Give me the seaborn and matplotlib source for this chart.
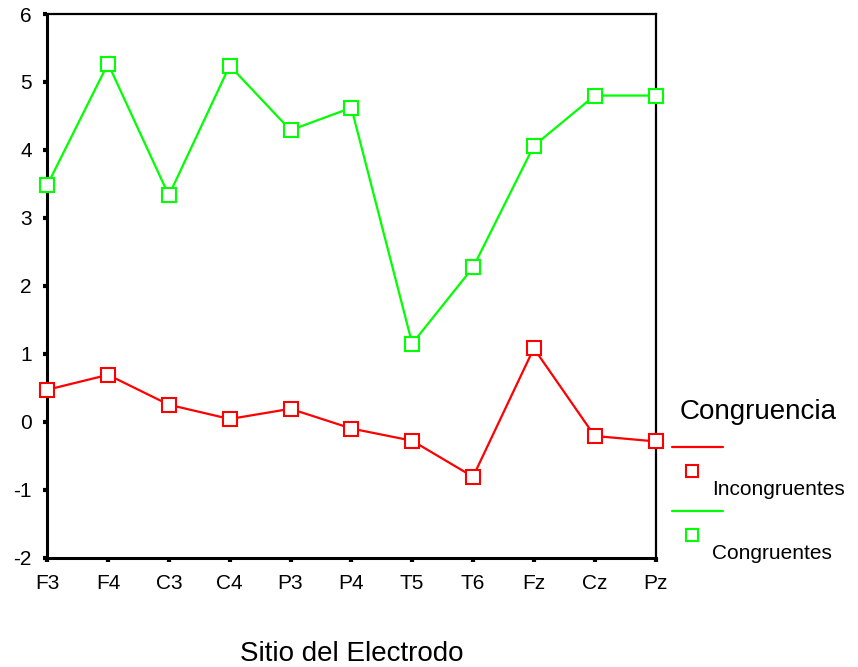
import matplotlib
matplotlib.use("Agg")
import matplotlib.pyplot as plt
from matplotlib.lines import Line2D
import seaborn as sns
import pandas as pd

sitios = ['F3', 'F4', 'C3', 'C4', 'P3', 'P4', 'T5', 'T6', 'Fz', 'Cz', 'Pz']
incongruentes = [0.47, 0.69, 0.25, 0.04, 0.19, -0.10, -0.28, -0.81, 1.08, -0.21, -0.29]
congruentes = [3.48, 5.27, 3.33, 5.24, 4.29, 4.62, 1.15, 2.27, 4.06, 4.80, 4.80]
grupos = ['Incongruentes', 'Congruentes']
colores = {'Incongruentes': '#ff0000', 'Congruentes': '#00ff00'}
y_ticks = [-2, -1, 0, 1, 2, 3, 4, 5, 6]

df = pd.DataFrame({
    'sitio': sitios * 2,
    'valor': incongruentes + congruentes,
    'grupo': ['Incongruentes'] * len(sitios) + ['Congruentes'] * len(sitios),
})

sns.set_style("white")
plt.rcParams['font.family'] = ['Liberation Sans', 'DejaVu Sans']
plt.rcParams['axes.unicode_minus'] = False
plt.rcParams['text.color'] = 'black'
plt.rcParams['axes.labelcolor'] = 'black'

fig = plt.figure(figsize=(8.58, 6.67), dpi=100)
ax = fig.add_axes([0.055, 0.164, 0.709, 0.815])

for g in grupos:
    sub = df[df['grupo'] == g]
    sns.lineplot(data=sub, x='sitio', y='valor', color=colores[g], marker='s',
                 markersize=10, markerfacecolor='white', markeredgecolor=colores[g],
                 markeredgewidth=1.5, linewidth=1.6, sort=False, ax=ax,
                 clip_on=False, zorder=3)

ax.set_xlim(0, len(sitios) - 1)
ax.set_ylim(-2, 6)
ax.set_yticks(y_ticks)
ax.set_xticks(range(len(sitios)))
ax.set_xticklabels(sitios)
ax.set_xlabel('Sitio del Electrodo', fontsize=20, labelpad=34, color='black')
ax.set_ylabel('')
ax.tick_params(axis='both', direction='out', length=3, width=3, labelsize=15,
               colors='black', labelcolor='black')
ax.tick_params(axis='x', pad=9)
ax.tick_params(axis='y', pad=8)
ax.tick_params(left=True, bottom=True)

for side in ['left', 'bottom']:
    ax.spines[side].set_linewidth(2.2)
for side in ['top', 'right']:
    ax.spines[side].set_linewidth(1.6)
for sp in ax.spines.values():
    sp.set_color('black')
    sp.set_zorder(2)

# legend drawn by hand to mimic the original layout
fig.text(0.792, 0.382, 'Congruencia', fontsize=20, ha='left', va='center', color='black')
y_line = [0.330, 0.234]
for g, yl in zip(grupos, y_line):
    fig.add_artist(Line2D([0.783, 0.843], [yl, yl], color=colores[g], lw=1.6))
    fig.add_artist(Line2D([0.806], [yl - 0.036], marker='s', markersize=9,
                          markerfacecolor='white', markeredgecolor=colores[g],
                          markeredgewidth=1.5, linestyle='none'))
    fig.text(0.830, yl - 0.064, g, fontsize=15, ha='left', va='center', color='black')

fig.savefig('out.png', dpi=100)
